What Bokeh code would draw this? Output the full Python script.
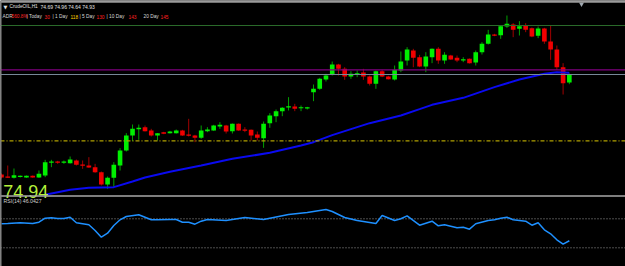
import numpy as np
from bokeh.plotting import figure
from bokeh.models import Range1d, Span, ColumnDataSource
from bokeh.embed import file_html
from bokeh.resources import INLINE
from bokeh.core.properties import value

# ---------------- data ----------------
opens = [71.93, 71.87, 71.83, 71.86, 71.84, 71.89, 71.84, 71.90, 72.29, 72.32,
         72.29, 72.27, 72.35, 72.23, 72.20, 72.15, 72.00, 71.63, 71.83, 72.20,
         72.65, 73.10, 73.29, 73.35, 73.25, 73.10, 73.20, 73.17, 73.17, 73.25,
         73.13, 73.10, 73.03, 73.23, 73.25, 73.37, 73.40, 73.23, 73.45, 73.28,
         73.27, 73.13, 73.02, 73.47, 73.68, 73.83, 73.94, 73.97, 73.92, 73.91,
         74.40, 74.50, 74.78, 74.93, 75.23, 75.10, 74.87, 74.93, 74.99, 74.87,
         74.65, 75.03, 74.87, 74.78, 75.05, 75.35, 75.65, 75.45, 75.17, 75.45,
         75.70, 75.35, 75.50, 75.43, 75.35, 75.40, 75.29, 75.60, 75.85, 76.13,
         76.11, 76.37, 76.43, 76.30, 76.40, 76.32, 76.09, 76.31, 75.92, 75.68,
         75.15, 74.69]
highs = [71.96, 72.20, 72.11, 71.90, 71.90, 71.90, 72.05, 72.37, 72.37, 72.34,
         72.35, 72.47, 72.38, 72.35, 72.45, 72.25, 72.02, 71.87, 72.30, 72.72,
         73.17, 73.43, 73.43, 73.40, 73.30, 73.17, 73.21, 73.24, 73.28, 73.27,
         73.60, 73.12, 73.40, 73.35, 73.42, 73.50, 73.42, 73.46, 73.46, 73.35,
         73.28, 73.22, 73.52, 73.77, 73.88, 73.95, 74.25, 74.05, 74.00, 73.96,
         74.63, 74.83, 74.95, 75.32, 75.25, 75.15, 75.03, 75.05, 75.10, 74.90,
         75.05, 75.07, 74.89, 75.20, 75.62, 75.75, 75.70, 75.52, 75.60, 75.71,
         75.75, 75.60, 75.52, 75.50, 75.45, 75.41, 75.65, 75.90, 76.27, 76.15,
         76.40, 76.70, 76.47, 76.53, 76.47, 76.34, 76.37, 76.33, 76.40, 75.80,
         75.27, 74.96]
lows = [71.81, 71.83, 71.81, 71.84, 71.83, 71.83, 71.83, 71.85, 72.15, 72.25,
        72.25, 72.26, 72.20, 72.10, 72.13, 71.98, 71.60, 71.50, 71.55, 72.05,
        72.62, 72.93, 72.97, 73.22, 73.07, 72.95, 73.14, 73.16, 73.16, 73.09,
        73.07, 72.90, 73.00, 73.20, 73.24, 73.30, 73.16, 73.16, 73.24, 73.20,
        72.95, 72.95, 72.73, 73.33, 73.50, 73.68, 73.85, 73.83, 73.83, 73.88,
        74.13, 74.47, 74.72, 74.90, 74.90, 74.77, 74.80, 74.85, 74.77, 74.60,
        74.50, 74.85, 74.78, 74.75, 75.00, 75.20, 75.15, 75.15, 75.00, 75.27,
        75.25, 75.25, 75.37, 75.30, 75.30, 75.26, 75.20, 75.53, 75.83, 76.08,
        76.00, 76.33, 76.05, 76.10, 76.20, 76.05, 76.02, 75.85, 75.37, 75.07,
        74.33, 74.64]
closes = [71.84, 71.84, 71.91, 71.89, 71.89, 71.84, 71.95, 72.30, 72.32, 72.29,
          72.32, 72.38, 72.22, 72.19, 72.14, 72.00, 71.63, 71.83, 72.22, 72.65,
          73.10, 73.30, 73.33, 73.23, 73.10, 73.17, 73.15, 73.22, 73.25, 73.10,
          73.09, 73.03, 73.25, 73.28, 73.40, 73.42, 73.22, 73.45, 73.25, 73.26,
          73.10, 73.03, 73.45, 73.70, 73.83, 73.93, 73.98, 73.90, 73.95, 73.95,
          74.50, 74.80, 74.90, 75.23, 75.10, 74.87, 74.95, 74.97, 74.87, 74.65,
          75.03, 74.87, 74.79, 75.07, 75.32, 75.68, 75.43, 75.17, 75.47, 75.70,
          75.35, 75.52, 75.38, 75.35, 75.39, 75.27, 75.60, 75.85, 76.13, 76.09,
          76.38, 76.45, 76.27, 76.38, 76.27, 76.07, 76.31, 75.92, 75.68, 75.15,
          74.67, 74.93]

ma_idx = [7, 11, 14, 18, 21, 23, 27, 32, 37, 43, 48, 50, 53, 59, 64, 67, 69, 74, 79, 83, 87, 89, 91]
ma_val = [71.32, 71.47, 71.53, 71.55, 71.72, 71.84, 72.01, 72.20, 72.40, 72.58, 72.80, 72.90,
          73.11, 73.47, 73.70, 73.89, 74.02, 74.23, 74.55, 74.78, 74.95, 75.00, 74.98]

rsi_idx = [0, 1, 3, 5, 6, 7, 8, 9, 10, 11, 12, 13, 14, 15, 16, 17, 18, 19, 20, 22, 23, 24, 25,
           27, 28, 29, 30, 31, 32, 33, 36, 39, 42, 46, 49, 52, 53, 55, 57, 60, 61, 63, 64, 65,
           67, 69, 70, 71, 73, 74, 75, 76, 78, 79, 80, 81, 82, 84, 85, 86, 87, 88, 89, 90, 91]
rsi_val = [63.1, 63.5, 64.5, 63.5, 65.3, 70.8, 71.4, 70.4, 70.4, 72.2, 64.5, 63.1, 61.7, 53.9,
           44.6, 50.1, 60.8, 68.6, 73.2, 75.5, 72.2, 68.6, 68.6, 69.0, 69.0, 65.3, 65.3, 62.6,
           66.7, 69.0, 67.7, 71.8, 69.0, 75.9, 78.7, 82.8, 80.1, 71.8, 67.7, 63.5, 74.6, 67.7,
           70.0, 74.1, 61.2, 66.7, 60.3, 61.7, 57.6, 58.4, 55.7, 63.1, 67.7, 68.6, 70.8, 72.2,
           68.6, 66.7, 61.2, 64.5, 54.8, 49.3, 41.0, 35.0, 39.7]

rsi_levels = [70, 30]
level_green = 76.40
level_purple = 75.07
bid_price = 74.93
level_yellow = 72.94

symbol = "CrudeOIL,H1"
ohlc_text = "74.69 74.96 74.64 74.93"
big_price = "74.94"
rsi_label = "RSI(14) 46.0427"
adr_parts = [("ADR", "#D8D8D8"), ("560.8%", "#FF2020"), ("| Today", "#D8D8D8"), ("30", "#FF2020"),
             ("| 1 Day", "#D8D8D8"), ("118", "#FFD700"), ("| 5 Day", "#D8D8D8"), ("130", "#FF2020"),
             ("| 10 Day", "#D8D8D8"), ("143", "#FF2020"), ("20 Day", "#D8D8D8"), ("145", "#FF2020")]
adr_x = [2, 11, 26, 44, 52, 70, 79, 96, 106, 128, 143, 160]

# ---------------- layout mapping ----------------
W, H = 625, 266
BAR_PX = 6.24
X0 = 1.0
PTOP = 77.15
PPX = 0.03
RSI_Y70 = 218.3
RSI_PX = 0.725


def px_x(x):
    return (x - X0) / BAR_PX


def px_y(y):
    return PTOP - PPX * y


rsi_top = 70 + RSI_Y70 / RSI_PX
rsi_bot = 70 - (H - RSI_Y70) / RSI_PX

p = figure(width=W, height=H, output_backend="svg", toolbar_location=None,
           x_range=Range1d(px_x(0), px_x(W)), y_range=Range1d(px_y(H), px_y(0)),
           x_axis_location=None, y_axis_location=None, min_border=0,
           background_fill_color="black", border_fill_color="black", outline_line_color=None)
p.grid.visible = False
p.extra_y_ranges = {"rsi": Range1d(rsi_bot, rsi_top)}

# horizontal levels
p.add_layout(Span(location=level_green, dimension="width", line_color="#2A6A2A", line_width=1.2))
p.add_layout(Span(location=level_purple, dimension="width", line_color="#800080", line_width=1.2))
p.add_layout(Span(location=bid_price, dimension="width", line_color="#778899", line_width=1.2))
p.add_layout(Span(location=level_yellow, dimension="width", line_color="#B0A000", line_width=1.2,
                  line_dash="4 2 1 2"))

# candles
idx = np.arange(len(opens))
o = np.array(opens); c = np.array(closes); hi = np.array(highs); lo = np.array(lows)
bull = c >= o
top = np.maximum(o, c)
bot = np.minimum(o, c)
bot = np.where(top - bot < 0.035, top - 0.035, bot)
src = ColumnDataSource(dict(x=idx, hi=hi, lo=lo, top=top, bot=bot,
                            body=np.where(bull, "#00F000", "#F00000"),
                            wick=np.where(bull, "#00A000", "#A00000")))
p.segment(x0="x", y0="lo", x1="x", y1="hi", line_color="wick", line_width=1, source=src)
p.vbar(x="x", width=0.74, top="top", bottom="bot", fill_color="body", line_color=None, source=src)

# moving average
p.line(ma_idx, ma_val, line_color="#0A0AF0", line_width=2)

# separators / borders
p.add_layout(Span(location=px_y(195.5), dimension="width", line_color="#A8A8A8", line_width=1.5))
p.add_layout(Span(location=px_y(1.2), dimension="width", line_color="#9A9A9A", line_width=2))
p.add_layout(Span(location=px_x(0.5), dimension="height", line_color="#8A8A8A", line_width=1))
p.scatter([px_x(581)], [px_y(3.5)], marker="inverted_triangle", size=5,
          fill_color="#A0A8B0", line_color=None)

# RSI panel
for lv in rsi_levels:
    p.line([px_x(0), px_x(W)], [lv, lv], y_range_name="rsi", line_color="#9A9A9A",
           line_width=1, line_dash="1 2")
p.line(rsi_idx, rsi_val, y_range_name="rsi", line_color="#1E90FF", line_width=1.5)

# texts
F = value("Liberation Sans")
p.text(x=[px_x(2.7)], y=[px_y(190.7)], text=[big_price], text_font=F, text_font_size=value("18px"),
       text_color="#B4F03A", text_baseline="alphabetic", text_align="left")
p.text(x=[px_x(3)], y=[px_y(6)], text=["\u25bc"], text_font=value("DejaVu Sans"),
       text_font_size=value("5px"), text_color="#E0E0E0", text_baseline="middle")
p.text(x=[px_x(9)], y=[px_y(6)], text=[symbol], text_font=F, text_font_size=value("4.8px"),
       text_color="#E0E0E0", text_baseline="middle")
p.text(x=[px_x(40)], y=[px_y(6)], text=[ohlc_text], text_font=F, text_font_size=value("5px"),
       text_color="#E0E0E0", text_baseline="middle")
for (t, col), xx in zip(adr_parts, adr_x):
    p.text(x=[px_x(xx)], y=[px_y(16)], text=[t], text_font=F, text_font_size=value("4.8px"),
           text_color=col, text_baseline="middle")
p.text(x=[px_x(3)], y=[px_y(200.5)], text=[rsi_label], text_font=F, text_font_size=value("5.2px"),
       text_color="#D0D0D0", text_baseline="middle")

open("out.html", "w").write(file_html(p, INLINE))
